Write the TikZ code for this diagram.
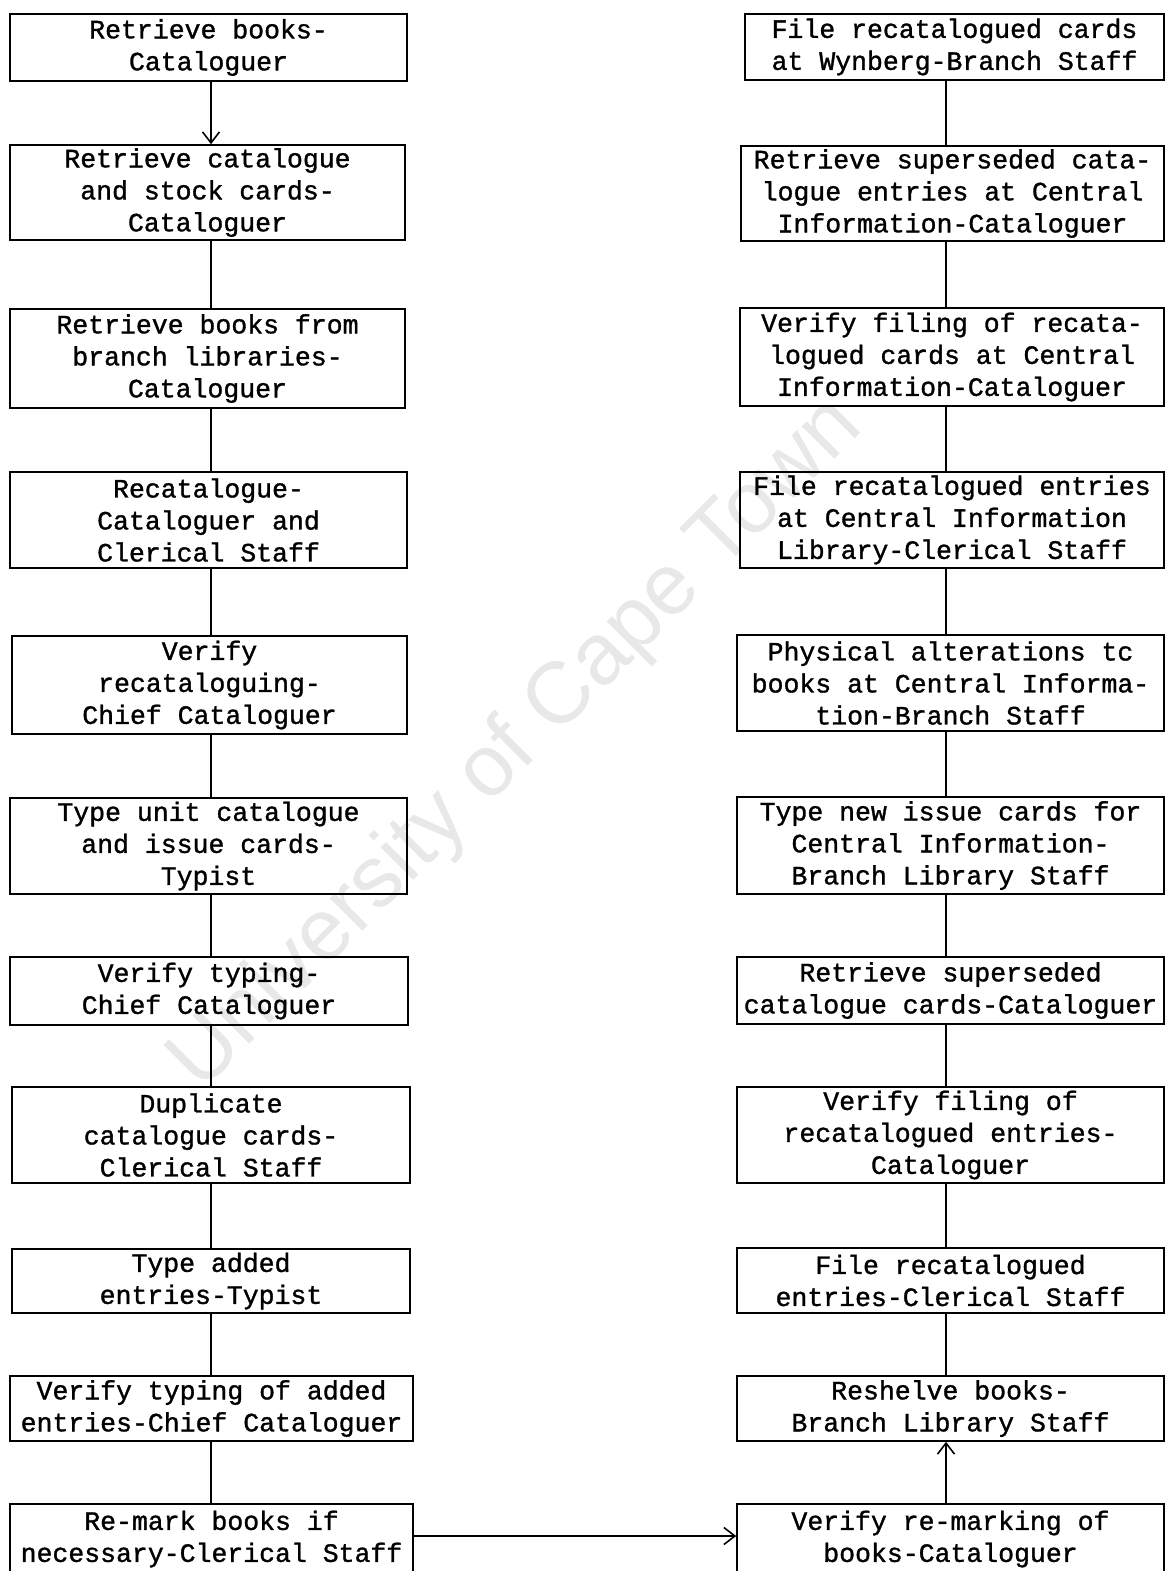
\documentclass[tikz,border=0pt]{standalone}
\usepackage{fontspec}
\usetikzlibrary{arrows.meta}
\newfontfamily\typer[FakeBold=1.2]{Liberation Mono}
\newfontfamily\stampfont{Liberation Sans}
\begin{document}
\begin{tikzpicture}[x=1pt,y=-1pt,
  box/.style={draw, line width=1.6pt, inner sep=0pt, align=center,
    font=\typer\fontsize{26.5}{32}\selectfont},
  link/.style={line width=1.5pt},
  arr/.style={line width=1.5pt, -{Straight Barb[length=11pt,width=17pt,line width=1.6pt]}}]
\useasboundingbox (0,0) rectangle (1166,1571);

% faint stamp across the page
\node[rotate=45, text=black!9, font=\stampfont\fontsize{87}{87}\selectfont] (stamp) at (517,745) {University of Cape Town};

% left column
\node[box, minimum width=397pt, minimum height=67pt] (l1) at (208.5,47.5) {Retrieve books-\\Cataloguer};
\node[box, minimum width=395pt, minimum height=95pt] (l2) at (207.5,192.5) {Retrieve catalogue\\and stock cards-\\Cataloguer};
\node[box, minimum width=395pt, minimum height=99pt] (l3) at (207.5,358.5) {Retrieve books from\\branch libraries-\\Cataloguer};
\node[box, minimum width=397pt, minimum height=96pt] (l4) at (208.5,520) {Recatalogue-\\Cataloguer and\\Clerical Staff};
\node[box, minimum width=395pt, minimum height=98pt] (l5) at (209.5,685) {Verify\\recataloguing-\\Chief Cataloguer};
\node[box, minimum width=397pt, minimum height=96pt] (l6) at (208.5,846) {Type unit catalogue\\and issue cards-\\Typist};
\node[box, minimum width=398pt, minimum height=68pt] (l7) at (209,991) {Verify typing-\\Chief Cataloguer};
\node[box, minimum width=398pt, minimum height=96pt] (l8) at (211,1135) {Duplicate\\catalogue cards-\\Clerical Staff};
\node[box, minimum width=398pt, minimum height=64pt] (l9) at (211,1281) {Type added\\entries-Typist};
\node[box, minimum width=403pt, minimum height=65pt] (l10) at (211.5,1408.5) {Verify typing of added\\entries-Chief Cataloguer};
\node[box, minimum width=403pt, minimum height=70pt] (l11) at (211.5,1539) {Re-mark books if\\necessary-Clerical Staff};

% right column
\node[box, minimum width=419pt, minimum height=66pt] (r1) at (954.5,47) {File recatalogued cards\\at Wynberg-Branch Staff};
\node[box, minimum width=423pt, minimum height=95pt] (r2) at (952.5,193.5) {Retrieve superseded cata-\\logue entries at Central\\Information-Cataloguer};
\node[box, minimum width=424pt, minimum height=98pt] (r3) at (952,357) {Verify filing of recata-\\logued cards at Central\\Information-Cataloguer};
\node[box, minimum width=424pt, minimum height=96pt] (r4) at (952,520) {File recatalogued entries\\at Central Information\\Library-Clerical Staff};
\node[box, minimum width=427pt, minimum height=96pt] (r5) at (950.5,683) {Physical alterations tc\\books at Central Informa-\\tion-Branch Staff};
\node[box, minimum width=427pt, minimum height=97pt] (r6) at (950.5,845.5) {Type new issue cards for\\Central Information-\\Branch Library Staff};
\node[box, minimum width=427pt, minimum height=67pt] (r7) at (950.5,990.5) {Retrieve superseded\\catalogue cards-Cataloguer};
\node[box, minimum width=427pt, minimum height=96pt] (r8) at (950.5,1135) {Verify filing of\\recatalogued entries-\\Cataloguer};
\node[box, minimum width=427pt, minimum height=65pt] (r9) at (950.5,1280.5) {File recatalogued\\entries-Clerical Staff};
\node[box, minimum width=427pt, minimum height=65pt] (r10) at (950.5,1408.5) {Reshelve books-\\Branch Library Staff};
\node[box, minimum width=427pt, minimum height=70pt] (r11) at (950.5,1539) {Verify re-marking of\\books-Cataloguer};

% columns of the connecting lines
\coordinate (lx) at (211,0);
\coordinate (rx) at (946,0);
\coordinate (hy) at (0,1536);

% left column links
\draw[arr] (l1.south -| lx) -- (l2.north -| lx);
\draw[link] (l2.south -| lx) -- (l3.north -| lx);
\draw[link] (l3.south -| lx) -- (l4.north -| lx);
\draw[link] (l4.south -| lx) -- (l5.north -| lx);
\draw[link] (l5.south -| lx) -- (l6.north -| lx);
\draw[link] (l6.south -| lx) -- (l7.north -| lx);
\draw[link] (l7.south -| lx) -- (l8.north -| lx);
\draw[link] (l8.south -| lx) -- (l9.north -| lx);
\draw[link] (l9.south -| lx) -- (l10.north -| lx);
\draw[link] (l10.south -| lx) -- (l11.north -| lx);

% across to the right column
\draw[arr] (l11.east |- hy) -- (r11.west |- hy);

% right column links
\draw[arr] (r11.north -| rx) -- (r10.south -| rx);
\draw[link] (r9.south -| rx) -- (r10.north -| rx);
\draw[link] (r8.south -| rx) -- (r9.north -| rx);
\draw[link] (r7.south -| rx) -- (r8.north -| rx);
\draw[link] (r6.south -| rx) -- (r7.north -| rx);
\draw[link] (r5.south -| rx) -- (r6.north -| rx);
\draw[link] (r4.south -| rx) -- (r5.north -| rx);
\draw[link] (r3.south -| rx) -- (r4.north -| rx);
\draw[link] (r2.south -| rx) -- (r3.north -| rx);
\draw[link] (r1.south -| rx) -- (r2.north -| rx);
\end{tikzpicture}
\end{document}
